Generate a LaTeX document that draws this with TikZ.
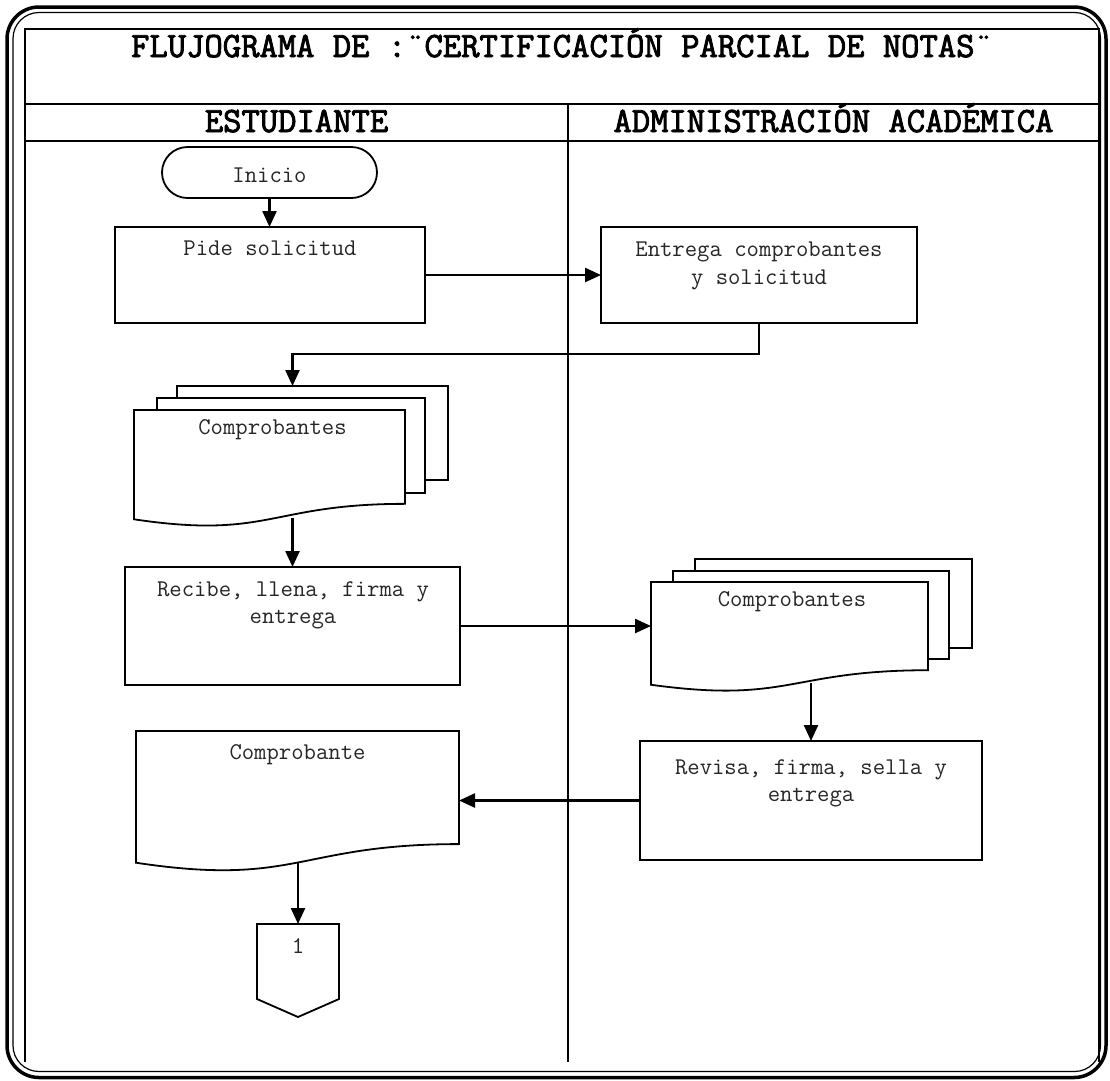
\documentclass[tikz,border=0pt]{standalone}
\usepackage{fontspec}
\newfontfamily\headfont{Latin Modern Mono}[FakeBold=2.5]
\usetikzlibrary{arrows.meta,calc}

% document symbol with a wavy lower edge, drawn inside the bounds of a named node
\newcommand\drawdoc[1]{%
  \draw[sheet] (#1.north west) -- (#1.north east)
    -- ($(#1.north east)!0.802!(#1.south east)$)
    .. controls ($(#1.north)!0.802!(#1.south)$) and ($(#1.north)!1.1075!(#1.south)$)
    .. ($(#1.north west)!0.934!(#1.south west)$) -- cycle;}

\begin{document}
\begin{tikzpicture}[x=1pt,y=-1pt,
  every node/.style={inner sep=0pt, outer sep=0pt},
  proc/.style={draw, line width=1.8pt, fill=white},
  ghost/.style={draw=none, inner sep=0pt},
  sheet/.style={draw, line width=1.8pt, fill=white},
  txt/.style={anchor=base, font=\ttfamily\fontsize{24}{30}\selectfont, text=black!85},
  head/.style={anchor=base, font=\headfont\fontsize{35.6}{42}\selectfont},
  flow/.style={line width=2.4pt, -{Triangle[length=16pt,width=14pt]}},
  grid/.style={line width=2pt},
]
\useasboundingbox (0,0) rectangle (1110,1080);

% page frame
\draw[line width=3.5pt, rounded corners=32pt] (7,7) rectangle (1106,1077.5);
\draw[line width=1.2pt, rounded corners=26pt] (13,12.5) rectangle (1100.5,1071.5);

% table with swimlanes
\draw[grid] (25,1062) -- (25,29) -- (1099,29) -- (1099,1062);
\draw[grid] (25,103.5) -- (1099,103.5);
\draw[grid] (25,141) -- (1099,141);
\draw[line width=1.6pt] (568,103.5) -- (568,1062);

\node[head] (title) at (562,57) {FLUJOGRAMA DE :¨CERTIFICACIÓN PARCIAL DE NOTAS¨};
\node[head] (laneA) at (296.5,132) {ESTUDIANTE};
\node[head] (laneB) at (833.5,132) {ADMINISTRACIÓN ACADÉMICA};

% start
\node[proc, rounded corners=25.5pt, minimum width=215pt, minimum height=51pt] (inicio) at (269.5,172.5) {};
\node[txt] (inicioT) at (269.5,182) {Inicio};

% request
\node[proc, minimum width=310pt, minimum height=96pt] (pide) at (270,275) {};
\node[txt] (pideT) at (270,255) {Pide solicitud};

\node[proc, minimum width=316pt, minimum height=96pt] (entrega) at (759,275) {};
\node[txt] (entregaT1) at (759,256) {Entrega comprobantes};
\node[txt] (entregaT2) at (759,284) {y solicitud};

% stack of documents, student side
\node[proc, minimum width=271pt, minimum height=94pt] (stkLb) at (312.5,433) {};
\node[proc, minimum width=268pt, minimum height=95pt] (stkLm) at (291,445.5) {};
\node[ghost, minimum width=271pt, minimum height=117pt] (stkLf) at (269.5,468.5) {};
\drawdoc{stkLf}
\node[txt] (stkLT) at (272.5,434) {Comprobantes};

\node[proc, minimum width=335pt, minimum height=118pt] (recibe) at (292.5,626) {};
\node[txt] (recibeT1) at (293,596) {Recibe, llena, firma y};
\node[txt] (recibeT2) at (293,623) {entrega};

% stack of documents, administration side
\node[proc, minimum width=277pt, minimum height=89pt] (stkRb) at (833.5,603.5) {};
\node[proc, minimum width=276pt, minimum height=88pt] (stkRm) at (811,615) {};
\node[ghost, minimum width=277pt, minimum height=110pt] (stkRf) at (789.5,637) {};
\drawdoc{stkRf}
\node[txt] (stkRT) at (792,606) {Comprobantes};

\node[proc, minimum width=342pt, minimum height=119pt] (revisa) at (811,800.5) {};
\node[txt] (revisaT1) at (811,774) {Revisa, firma, sella y};
\node[txt] (revisaT2) at (811,801) {entrega};

% single document returned
\node[ghost, minimum width=323pt, minimum height=141pt] (comp) at (297.5,801.5) {};
\drawdoc{comp}
\node[txt] (compT) at (297.5,759) {Comprobante};

% off-page connector
\node[ghost, minimum width=82pt, minimum height=93pt] (conn) at (298,970.5) {};
\draw[sheet] (conn.north west) -- (conn.north east) -- ($(conn.south east)+(0,-18)$)
  -- (conn.south) -- ($(conn.south west)+(0,-18)$) -- cycle;
\node[txt] (connT) at (298,953) {1};

% flow lines
\draw[flow] (inicio.south) -- (inicio.south |- pide.north);
\draw[flow] (pide.east) -- (entrega.west);
\draw[flow] (entrega.south) -- ++(0,31) -| (recibe.north |- stkLb.north);
\coordinate (stkLw) at ($(stkLf.north)!0.925!(stkLf.south)$);
\draw[flow] (recibe.north |- stkLw) -- (recibe.north);
\draw[flow] (recibe.east) -- (recibe.east -| stkRf.west);
\coordinate (stkRw) at ($(stkRf.north)!0.92!(stkRf.south)$);
\draw[flow] (revisa.north |- stkRw) -- (revisa.north);
\draw[flow] (revisa.west) -- (revisa.west -| comp.east);
\coordinate (compW) at ($(comp.north)!0.933!(comp.south)$);
\draw[flow] (conn.north |- compW) -- (conn.north);
\end{tikzpicture}
\end{document}
